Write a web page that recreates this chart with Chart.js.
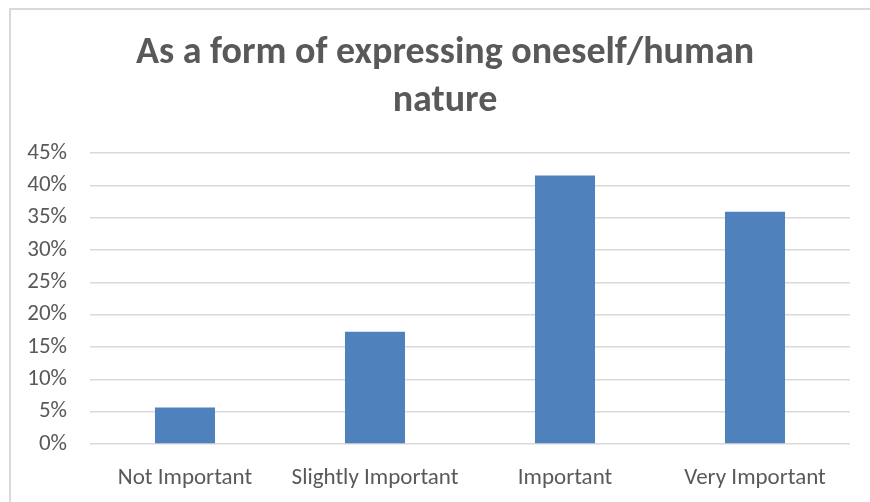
<!DOCTYPE html>
<html>
<head>
<meta charset="utf-8">
<script src="https://cdn.jsdelivr.net/npm/chart.js@4.4.1/dist/chart.umd.min.js"></script>
<style>
  html, body { margin: 0; padding: 0; background: #fff; overflow: hidden; }
  #wrap { position: relative; width: 890px; height: 502px; }
  #frame { position: absolute; left: 9px; top: 8px; width: 1000px; height: 1000px;
           border-left: 2px solid #d9d9d9; border-top: 2px solid #d9d9d9; }
</style>
</head>
<body>
<div id="wrap">
  <div id="frame"></div>
  <canvas id="chart"></canvas>
</div>
<script>
const categories = ["Not Important", "Slightly Important", "Important", "Very Important"];
const shares = [5.65, 17.35, 41.5, 35.9];
const titleLines = ["As a form of expressing oneself/human", "nature"];

const textGrey = "#595959";
const fontFamily = "Carlito, Calibri, Lato, sans-serif";

new Chart(document.getElementById("chart"), {
  type: "bar",
  data: {
    labels: categories,
    datasets: [{
      data: shares,
      backgroundColor: "#4f81bd",
      borderWidth: 0,
      barPercentage: 0.316,
      categoryPercentage: 1
    }]
  },
  options: {
    responsive: true, maintainAspectRatio: false,
    animation: false,
    layout: { padding: { left: 0, right: 0, top: 0, bottom: 13 } },
    plugins: {
      legend: { display: false },
      tooltip: { enabled: false },
      title: {
        display: true,
        text: titleLines,
        color: textGrey,
        font: { family: fontFamily, size: 38, weight: "bold", lineHeight: 1.263 },
        padding: { top: 30, bottom: 27 }
      }
    },
    scales: {
      x: {
        afterFit: s => { s.height = 45; },
        grid: { display: false, drawTicks: false },
        border: { display: false },
        ticks: { color: textGrey, padding: 20, font: { family: fontFamily, size: 23 } }
      },
      y: {
        min: 0, max: 45,
        afterFit: s => { s.width = 90; },
        grid: { color: "#d9d9d9", lineWidth: 1.5, drawTicks: false },
        border: { display: false },
        ticks: {
          stepSize: 5,
          padding: 23,
          color: textGrey,
          font: { family: fontFamily, size: 23 },
          callback: v => v + "%"
        }
      },
      // empty right-hand spacer so the title stays centred on the whole frame
      spacer: {
        type: "linear",
        position: "right",
        afterFit: s => { s.width = 40; },
        grid: { display: false },
        border: { display: false },
        ticks: { display: false }
      }
    }
  }
});
</script>
</body>
</html>
